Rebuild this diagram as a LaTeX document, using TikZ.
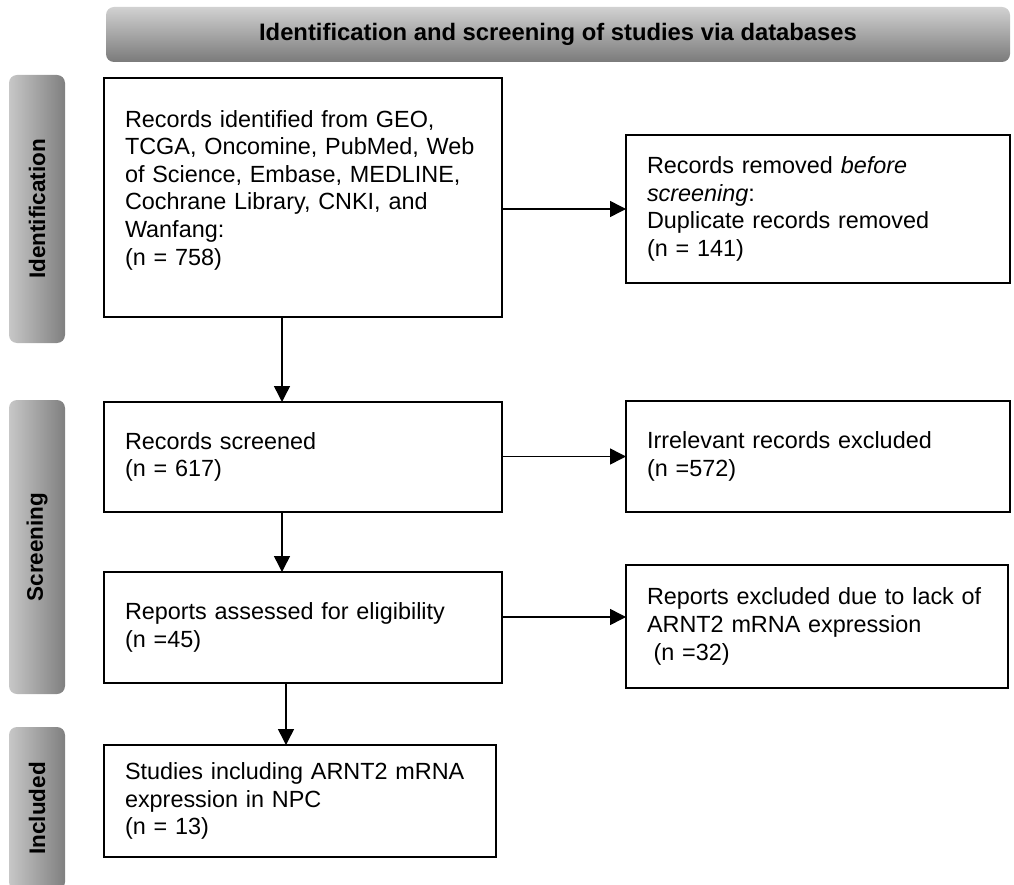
\documentclass[tikz,border=0pt]{standalone}
\usepackage{fontspec}
\setmainfont{Liberation Sans}
\usetikzlibrary{arrows.meta}

\begin{document}
\begin{tikzpicture}[x=1pt, y=-1pt,
    record/.style ={draw, line width=2.8pt, align=left, inner xsep=21pt, inner ysep=0pt,
        outer sep=0pt, font=\fontsize{23.4}{27.6}\selectfont},
    phase/.style ={rounded corners=8pt, left color=black!22, right color=black!50,
        minimum width=56pt, inner sep=0pt, font=\bfseries\fontsize{22.5}{27}\selectfont},
    banner/.style ={rounded corners=8pt, top color=black!18, bottom color=black!52,
        minimum width=904pt, minimum height=55pt, inner sep=0pt,
        font=\bfseries\fontsize{23.8}{27}\selectfont},
    flow/.style ={line width=1.5pt, -{Triangle[length=16pt, width=16pt]}}]
   \useasboundingbox (0,0) rectangle (1014,885);
   % header and phase bars
   \node[banner] (head) at (558,34.5) {Identification and screening of studies via databases};
   \node[phase, minimum height=268pt] (ident) at (37,209) {\rotatebox{90}{Identification}};
   \node[phase, minimum height=294pt] (screen) at (37,547) {\rotatebox{90}{Screening}};
   \node[phase, minimum height=163pt] (incl) at (37,808.5) {\rotatebox{90}{Included}};
   % boxes
   \node[record, text width=356pt, minimum height=239pt] (found) at (303,197.5)
      {Records identified from GEO,\\ TCGA, Oncomine, PubMed, Web\\ of Science, Embase, MEDLINE,\\
       Cochrane Library, CNKI, and\\ Wanfang:\\ (n = 758)\\[-8pt] \mbox{}};
   \node[record, text width=342pt, minimum height=148pt] (dupl) at (818,209)
      {Records removed \textit{before}\\ \textit{screening}:\\ Duplicate records removed\\ (n = 141)};
   \node[record, text width=356pt, minimum height=110pt] (screened) at (303,457)
      {Records screened\\ (n = 617)};
   \node[record, text width=342pt, minimum height=111pt] (irrel) at (818,456.5)
      {Irrelevant records excluded\\ (n =572)};
   \node[record, text width=356pt, minimum height=111pt] (assess) at (303,627.5)
      {Reports assessed for eligibility\\ (n =45)};
   \node[record, text width=340pt, minimum height=123pt] (lack) at (817,626.5)
      {Reports excluded due to lack of\\ ARNT2 mRNA expression\\ \hspace*{0.28em}(n =32)};
   \node[record, text width=350pt, minimum height=112pt] (studies) at (300,801)
      {Studies including ARNT2 mRNA\\ expression in NPC\\ (n = 13)};
   % arrows
   \coordinate (lackin) at ([yshift=9.5pt]lack.west);
   \draw[flow] (found.east |- dupl.west) to (dupl.west);
   \draw[flow] ([xshift=-21pt]found.south) to ([xshift=-21pt]screened.north);
   \draw[flow] (screened.east |- irrel.west) to (irrel.west);
   \draw[flow] ([xshift=-21pt]screened.south) to ([xshift=-21pt]assess.north);
   \draw[flow] (lackin -| assess.east) to (lackin);
   \draw[flow] ([xshift=-17pt]assess.south) to ([xshift=-14pt]studies.north);
 \end{tikzpicture}
\end{document}
